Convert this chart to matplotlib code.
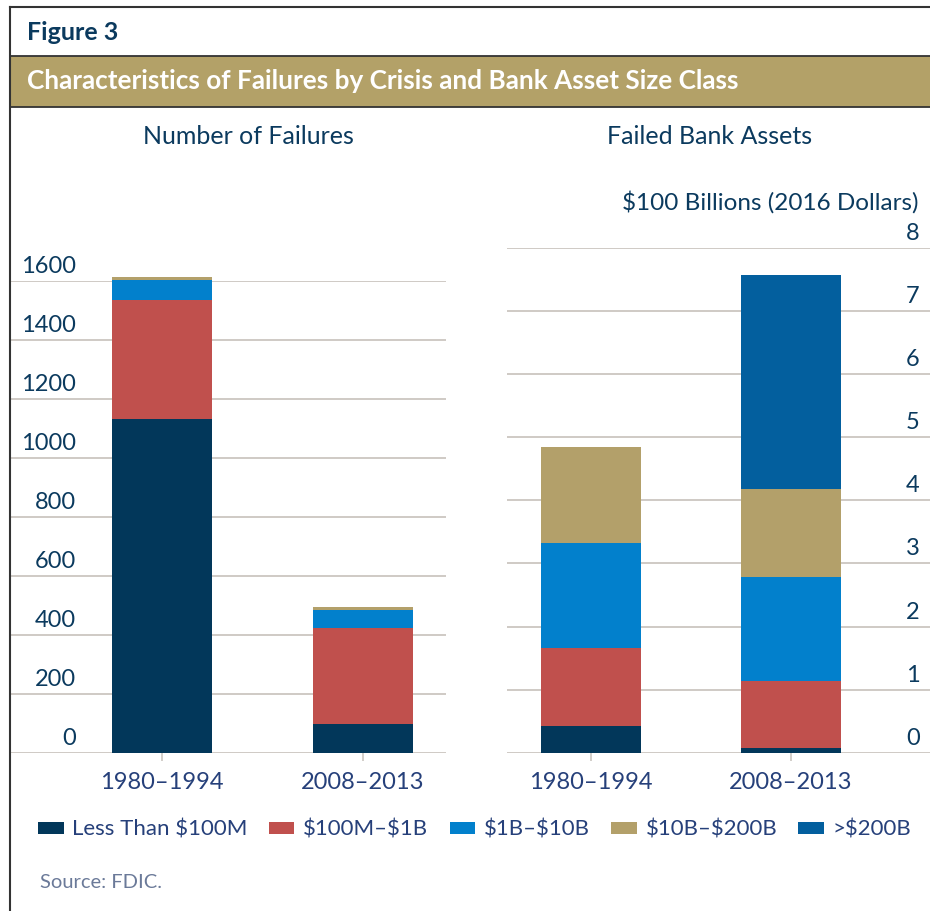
import matplotlib
matplotlib.use("Agg")
import matplotlib.pyplot as plt
from matplotlib.lines import Line2D
from matplotlib.patches import Rectangle
from matplotlib.transforms import ScaledTranslation, blended_transform_factory

plt.rcParams['font.family'] = ['Lato', 'DejaVu Sans']
plt.rcParams['text.parse_math'] = False

# data
periods = ['1980–1994', '2008–2013']
classes = ['Less Than $100M', '$100M–$1B', '$1B–$10B', '$10B–$200B', '>$200B']
colors = ['#02375a', '#c0504d', '#0280cc', '#b3a06a', '#035f9e']

# number of failures by class
failures = {
    'Less Than $100M': [1133, 98],
    '$100M–$1B': [405, 326],
    '$1B–$10B': [66, 62],
    '$10B–$200B': [10, 10],
    '>$200B': [0, 0],
}
# failed bank assets, $100 billions (2016 dollars)
assets = {
    'Less Than $100M': [0.43, 0.08],
    '$100M–$1B': [1.23, 1.05],
    '$1B–$10B': [1.66, 1.65],
    '$10B–$200B': [1.53, 1.40],
    '>$200B': [0.0, 3.39],
}
left_ticks = [0, 200, 400, 600, 800, 1000, 1200, 1400, 1600]
right_ticks = [0, 1, 2, 3, 4, 5, 6, 7, 8]

NAVY = '#0b3a5e'
XLAB = '#26407a'
GRID = '#cbc6c0'
W, H = 930, 911


def fx(x):
    return x / W


def fy(y):
    return 1 - y / H


fig = plt.figure(figsize=(W / 100, H / 100), dpi=100)

# frame, header and band
fig.add_artist(Line2D([fx(10), fx(10)], [fy(7), 0], color='#333333', lw=1.5))
fig.add_artist(Line2D([fx(10), 1], [fy(7), fy(7)], color='#333333', lw=1.5))
fig.add_artist(Rectangle((fx(10), fy(107)), 1 - fx(10), fy(56) - fy(107),
                         facecolor='#b3a168', edgecolor='none'))
fig.add_artist(Line2D([fx(10), 1], [fy(56), fy(56)], color='#333333', lw=1.3))
fig.add_artist(Line2D([fx(10), 1], [fy(107), fy(107)], color='#333333', lw=1.3))
fig.text(fx(27), fy(32), 'Figure 3', color=NAVY, fontsize=18, fontweight='bold',
         va='center', ha='left')
fig.text(fx(27), fy(81), 'Characteristics of Failures by Crisis and Bank Asset Size Class',
         color='white', fontsize=18.8, fontweight='bold', va='center', ha='left')

fig.text(fx(248), fy(137), 'Number of Failures', color=NAVY, fontsize=18,
         ha='center', va='center')
fig.text(fx(710), fy(137), 'Failed Bank Assets', color=NAVY, fontsize=18,
         ha='center', va='center')
fig.text(fx(918), fy(202), '$100 Billions (2016 Dollars)', color=NAVY, fontsize=17.5,
         ha='right', va='center')


def draw_panel(ax, data, ticks, xlim, label_x, label_ha):
    x = range(len(periods))
    bottom = [0] * len(periods)
    bars = []
    for name, col in zip(classes, colors):
        vals = data[name]
        b = ax.bar(x, vals, 0.5, bottom=bottom, color=col, label=name,
                   clip_on=False, zorder=3)
        bars.append(b)
        bottom = [bb + v for bb, v in zip(bottom, vals)]
    ax.set_xlim(*xlim)
    ax.set_ylim(ticks[0], ticks[-1])
    ax.set_yticks(ticks)
    ax.set_yticklabels([])
    ax.tick_params(axis='y', length=0)
    ax.grid(axis='y', color=GRID, lw=1.3, zorder=0)
    ax.set_xticks(list(x))
    ax.set_xticklabels(periods, color=XLAB, fontsize=17)
    ax.tick_params(axis='x', length=6, color=GRID, width=1.2, pad=8)
    for s in ax.spines.values():
        s.set_visible(False)
    tr = blended_transform_factory(ax.transAxes, ax.transData)
    off = ScaledTranslation(0, 8 / 100, fig.dpi_scale_trans)
    for t in ticks:
        ax.text(label_x, t, str(t), transform=tr + off, ha=label_ha, va='baseline',
                color=NAVY, fontsize=17)
    return bars


ax1 = fig.add_axes([fx(10), fy(752.7), fx(446) - fx(10), fy(281.3) - fy(752.7)])
draw_panel(ax1, failures, left_ticks, (-0.756, 1.413), (76 - 10) / 436, 'right')

ax2 = fig.add_axes([fx(507), fy(752.7), 1 - fx(507), fy(248) - fy(752.7)])
bars = draw_panel(ax2, assets, right_ticks, (-0.42, 1.695), (913 - 507) / 423, 'center')

fig.legend(bars, classes, loc='center left', bbox_to_anchor=(fx(38), fy(830)), ncol=5,
           frameon=False, fontsize=16, labelcolor=XLAB, handlelength=1.15,
           handleheight=0.45, handletextpad=0.4, columnspacing=0.95,
           borderpad=0, borderaxespad=0)

fig.text(fx(40), fy(882), 'Source: FDIC.', color='#6b7a99', fontsize=14.5,
         ha='left', va='center')

fig.savefig('out.png', dpi=100)
